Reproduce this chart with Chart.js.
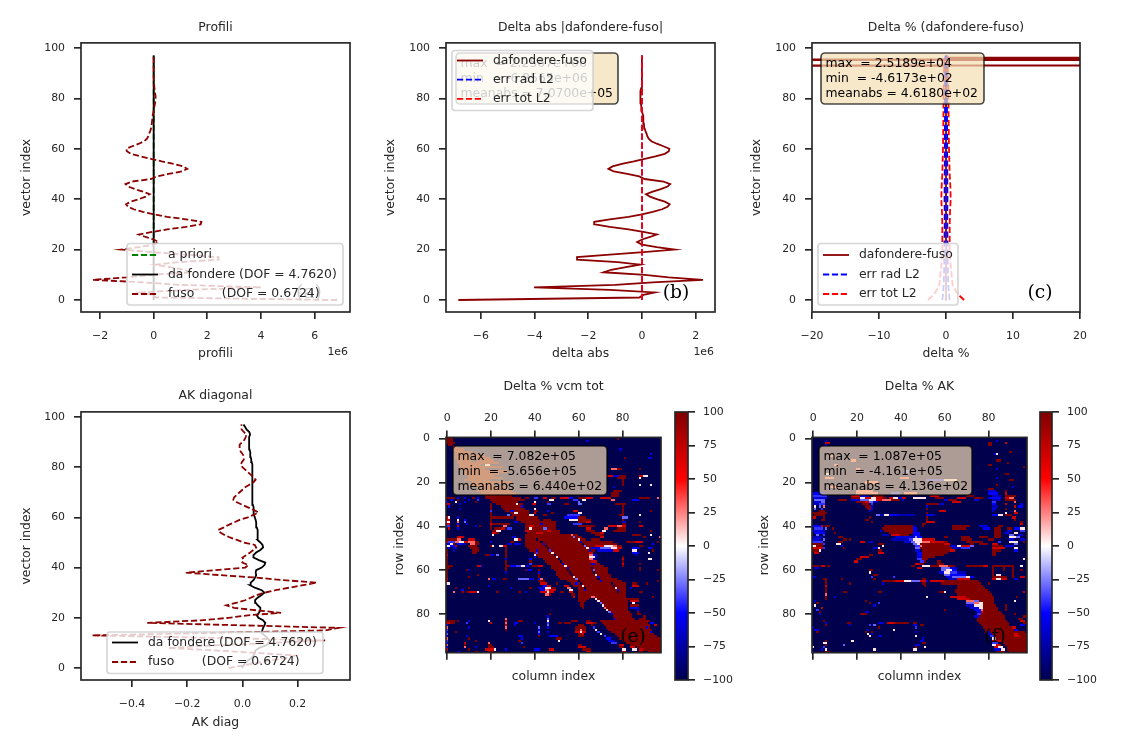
<!DOCTYPE html>
<html>
<head>
<meta charset="utf-8">
<title>Confronto fusione</title>
<script src="https://cdn.jsdelivr.net/npm/chart.js@4"></script>
<style>
  html, body { margin: 0; padding: 0; background: #fff; }
  #wrap { position: relative; width: 1125px; height: 750px; overflow: hidden; }
  canvas { position: absolute; left: 0; top: 0; }
</style>
</head>
<body>
<div id="wrap"></div>
<script>
// profile panels: values in units of 1e6, one per vector index 0..97
const deltaAbs = [-6.84,-0.1,0.05,0.48,-1.2,-4.02,-1.0,0.4,2.27,1.0,0.1,-1.43,-1.15,-0.6,-0.07,-0.9,-2.42,-2.42,-1.2,0.05,
  1.22,0.55,0,-0.18,0,0.3,0.55,0.05,-0.5,-1.2,-1.75,-1.78,-1.2,-0.5,0,0.4,0.75,0.95,1.03,0.85,
  0.55,0.3,0.15,0.4,0.7,0.95,1.05,0.8,0.1,-0.1,-0.55,-1.05,-1.25,-1.1,-0.75,-0.3,0.1,0.5,0.85,1.0,
  1.02,0.8,0.55,0.35,0.25,0.2,0.17,0.13,0.1,0.08,0.07,0.06,0.05,0.04,0.02,0,-0.02,-0.03,-0.05,-0.06,
  -0.07,-0.07,-0.05,-0.04,-0.03,-0.02,-0.01,-0.01,0,0,0,0,0,0,0,0,0,0];
const fuso = [6.84,0.1,-0.05,-0.48,1.2,4.02,1.0,-0.4,-2.27,-1.0,-0.1,1.43,1.15,0.6,0.07,0.9,2.42,2.42,1.2,-0.05,
  -1.22,-0.55,0,0.18,0,-0.3,-0.55,-0.05,0.5,1.2,1.75,1.78,1.2,0.5,0,-0.4,-0.75,-0.95,-1.03,-0.85,
  -0.55,-0.3,-0.15,-0.4,-0.7,-0.95,-1.05,-0.8,-0.1,0.1,0.55,1.05,1.25,1.1,0.75,0.3,-0.1,-0.5,-0.85,-1.0,
  -1.02,-0.8,-0.55,-0.35,-0.25,-0.2,-0.17,-0.13,-0.1,-0.08,-0.07,-0.06,-0.05,-0.04,-0.02,0,0.02,0.03,0.05,0.06,
  0.07,0.07,0.05,0.04,0.03,0.02,0.01,0.01,0,0,0,0,0,0,0,0,0,0];
const endRows = [0, 97];
const aPriori = [0, 0];
const daFondere = [0, 0];
const errAbsRad = [0, 0];
const errAbsTot = [0, 0];

// delta % profile, only the top rows leave the plotted window
const pctRows = [0,10,20,30,40,50,60,70,80,90,92.9,93.0,93.2,95.4,96.0,96.1,97];
const pctDelta = [0.1,0,0,0,0,0,0,0,0,0,0,-461.73,25189,-461.73,25189,0.2,0.1];
const errRows = [0,1,2,3,4,5,6,7,8,10,12,15,20,25,30,35,40,45,50,55,60,65,70,75,80,85,90,95,97];
const errRadPlus = [0.55,0.5,0.45,0.42,0.4,0.38,0.35,0.33,0.32,0.3,0.28,0.26,0.25,0.22,0.2,0.2,0.22,0.2,0.2,0.18,0.18,0.17,0.16,0.15,0.15,0.13,0.12,0.1,0.08];
const errRadMinus = [-0.55,-0.5,-0.45,-0.42,-0.4,-0.38,-0.35,-0.33,-0.32,-0.3,-0.28,-0.26,-0.25,-0.22,-0.2,-0.2,-0.22,-0.2,-0.2,-0.18,-0.18,-0.17,-0.16,-0.15,-0.15,-0.13,-0.12,-0.1,-0.08];
const errTotPlus = [2.7,2.3,1.9,1.6,1.4,1.15,1.0,0.95,0.9,0.85,0.75,0.65,0.55,0.55,0.55,0.6,0.7,0.65,0.55,0.5,0.45,0.42,0.4,0.38,0.36,0.33,0.3,0.25,0.2];
const errTotMinus = [-2.7,-2.3,-1.9,-1.6,-1.4,-1.15,-1.0,-0.95,-0.9,-0.85,-0.75,-0.65,-0.55,-0.55,-0.55,-0.6,-0.7,-0.65,-0.55,-0.5,-0.45,-0.42,-0.4,-0.38,-0.36,-0.33,-0.3,-0.25,-0.2];

// AK diagonal, one value per vector index 0..97
const akDaFondere = [-0.002,0.005,0.01,0.02,0.034,0.04,0.045,0.047,0.06,0.085,0.1,0.098,0.09,0.08,0.07,0.072,0.075,0.08,0.083,0.075,
  0.058,0.052,0.06,0.065,0.065,0.055,0.048,0.046,0.055,0.068,0.08,0.07,0.045,0.028,0.03,0.04,0.046,0.05,0.048,0.05,
  0.07,0.08,0.083,0.06,0.04,0.04,0.05,0.065,0.075,0.073,0.065,0.055,0.055,0.056,0.055,0.055,0.052,0.05,0.05,0.048,
  0.045,0.042,0.04,0.042,0.04,0.038,0.038,0.038,0.037,0.037,0.037,0.037,0.036,0.036,0.036,0.035,0.035,0.035,0.035,0.035,
  0.035,0.035,0.034,0.032,0.03,0.029,0.028,0.026,0.025,0.025,0.024,0.024,0.024,0.028,0.025,0.015,0.01,0.004];
const akFuso = [-0.05,0,0.05,0.1,0.16,0.19,0.06,-0.1,-0.27,-0.1,0.1,0.3,-0.1,-0.545,-0.1,0.3,0.35,0,-0.345,-0.15,
  -0.05,0.02,0.14,0.05,-0.03,-0.058,-0.02,0.01,0.03,0.05,0.08,0.12,0.17,0.22,0.27,0.15,0.05,-0.08,-0.205,-0.1,
  0.01,0.022,0,0.005,0,0.015,0.028,0.04,0.05,0.045,0.005,-0.02,-0.045,-0.065,-0.08,-0.088,-0.067,-0.05,-0.03,-0.01,
  0.02,0.04,0.058,0.04,0.02,0,-0.02,-0.033,-0.03,-0.02,-0.01,0,0.01,0.025,0.04,0.048,0.04,0.03,0.02,0.01,
  0,-0.006,-0.002,0.005,0.005,0.002,-0.005,-0.01,-0.01,-0.01,0,0.008,0.012,0.015,0.005,-0.003,-0.004,-0.003];
const vectorRows = deltaAbs.map((_, i) => i);

// tick labels per panel
const rowTicks = [0, 20, 40, 60, 80, 100];
const profTicksX = [-2, 0, 2, 4, 6];
const deltaAbsTicksX = [-6, -4, -2, 0, 2];
const deltaPctTicksX = [-20, -10, 0, 10, 20];
const akTicksX = [-0.4, -0.2, 0, 0.2];
const cellTicks = [0, 20, 40, 60, 80];
const barTicks = [-100, -75, -50, -25, 0, 25, 50, 75, 100];

// covariance difference cells as [row, first column, end column, percent]; the rest sits at -100
const vcmCells = [
  [0,0,3,100],[1,0,3,100],[2,0,4,100],[3,1,3,100],[4,3,5,70],[5,3,8,100],[6,4,12,100],[7,4,14,100],[8,4,10,100],[8,12,18,100],
  [9,4,20,100],[10,5,12,100],[10,14,22,100],[11,5,24,100],[12,6,16,100],[12,18,20,5],[13,6,26,100],[14,6,18,100],[15,8,28,100],[16,8,24,100],
  [17,10,22,100],[18,10,26,100],[19,8,20,100],[20,12,30,100],[21,10,22,100],[22,14,28,100],[23,16,28,100],[24,14,30,100],[25,16,32,100],
  [26,18,30,100],[27,18,34,100],[28,20,36,100],[29,21,33,100],[30,23,35,100],[31,25,35,100],[32,26,36,100],[33,27,38,100],[34,29,38,100],[35,30,40,100],
  [36,20,31,100],[36,32,42,100],[37,33,43,100],[37,44,48,100],[38,34,50,100],[39,36,50,100],[40,36,50,100],[41,36,50,100],[42,36,52,100],[43,37,52,100],
  [44,36,60,100],[45,36,62,100],[46,36,64,100],[47,36,76,100],[48,36,78,100],[49,36,68,100],[50,37,68,100],[51,38,68,100],[52,40,66,100],[53,41,66,100],
  [54,42,66,100],[55,44,66,100],[56,45,68,100],[57,46,70,100],[58,48,72,100],[59,48,74,100],[60,49,74,100],[61,50,74,100],[62,50,75,100],[63,51,75,100],
  [64,52,78,100],[65,55,80,100],[66,57,82,100],[67,58,82,100],[68,60,82,100],[69,60,82,100],[70,60,82,100],[71,60,82,100],[72,60,82,100],
  [73,60,65,100],[73,68,84,100],[74,60,64,100],[74,69,83,100],[75,61,63,100],[75,70,83,100],[76,61,63,100],[76,72,83,100],[77,62,63,100],[77,73,83,100],
  [78,74,83,100],[79,75,84,100],[80,75,84,100],[81,76,85,100],[82,76,86,100],[83,72,90,100],[84,71,92,100],[85,72,93,100],[86,73,93,100],[87,74,94,100],
  [88,75,94,100],[89,77,95,100],[90,78,96,100],[91,79,98,100],[92,80,98,100],[93,82,98,100],[94,84,98,100],[95,87,98,100],[96,90,98,100],[97,92,98,100],
  // thin streaks inside the band
  [48,44,45,-60],[49,45,46,-100],[50,46,47,-100],[51,47,48,-40],[52,48,49,5],[53,49,50,-100],[54,50,51,5],[55,51,52,-100],[56,52,53,-100],[57,53,54,-60],
  [58,54,55,5],[59,55,56,-60],[60,55,56,-100],[61,56,57,-100],[62,57,58,-100],[63,58,59,5],[64,59,60,-30],[65,60,61,-100],[66,61,62,-100],[67,62,63,5],[68,63,64,-100],[69,63,64,-60],
  [44,57,58,30],[45,58,59,-30],[46,60,61,5],[47,61,62,-60],[48,62,63,-100],[49,63,64,-30],[50,64,65,5],[51,65,66,-60],[52,66,67,5],
  [59,66,67,-100],[60,67,68,-30],[61,67,68,-100],[62,68,69,5],[63,69,70,-60],[64,69,70,-100],[65,70,71,-60],
  [72,66,68,30],[73,68,69,5],[74,69,70,5],[75,70,71,-30],[76,71,72,5],[77,72,73,30],[78,73,74,5],[79,74,75,-30],[80,75,76,-60],[81,75,76,-100],[82,76,77,-60],
  [66,75,76,-100],[67,76,77,-100],[68,77,78,5],[69,78,79,-60],[70,78,79,-100],
  [40,38,40,70],[41,38,39,5],[42,36,38,70],[43,41,44,70],[41,44,46,-30],[42,46,48,70],[39,43,44,-60],[46,41,42,-100],[47,43,44,-100],
  // right arm of the band
  [49,68,72,70],[49,72,76,5],[49,76,78,30],[49,78,80,100],[50,66,70,-60],[50,70,75,-30],[50,75,78,5],[50,78,80,70],[51,69,76,-60],[51,76,79,70],[52,72,78,-100],
  [52,65,67,70],[53,65,67,30],[54,65,68,5],[55,65,67,30],[56,66,69,70],[57,66,68,-60],[53,67,69,-60],[54,68,69,-60],[55,67,68,-60],
  // clusters right of the band
  [40,74,82,70],[41,72,74,30],[41,78,82,100],[42,71,73,5],[42,76,82,100],[43,70,72,70],[40,78,80,30],[39,80,82,100],[38,80,82,-60],[37,80,81,100],[36,80,83,-30],[35,79,81,100],[34,80,81,100],[33,80,81,100],[32,80,81,100],
  [30,77,82,100],[31,80,81,100],[28,75,77,30],[27,70,75,70],[27,88,93,100],[27,96,97,30],[28,85,88,-50],[26,75,79,100],[25,75,79,100],[24,76,80,100],
  [17,73,76,70],[17,76,79,-60],[17,79,82,100],[18,78,82,100],[19,80,81,100],[20,80,81,100],[21,80,81,100],[22,76,77,-60],[14,75,78,30],[14,78,80,100],[17,88,90,70],[17,90,92,5],[18,88,89,5],[21,93,94,5],[21,88,89,5],[14,88,89,100],
  [1,64,65,-60],[0,78,79,100],[5,79,80,-60],[7,93,94,-60],[9,81,82,100],[9,92,94,-60],[35,88,89,5],[33,93,94,100],[38,88,89,100],[40,88,90,70],[44,85,89,100],[42,93,94,100],[44,93,94,5],[45,90,91,100],[45,97,98,30],
  [47,82,86,100],[47,86,90,70],[50,85,88,-50],[51,85,87,5],[52,85,88,-50],[53,86,87,-70],[49,88,90,100],[50,92,94,-50],[52,92,93,5],[51,94,95,100],[54,80,81,100],[55,80,81,70],[56,80,81,100],[57,80,81,70],[58,80,81,100],[59,88,89,100],[60,88,89,100],[57,88,89,100],
  // rows 27-35, mixed specks on the left and along the top of the band
  [27,0,4,100],[27,5,6,-50],[27,8,9,-60],[27,12,13,100],[27,14,15,-50],[27,36,38,100],[27,40,42,-40],[27,44,46,70],[27,48,50,100],[27,52,56,70],[27,56,58,-50],[27,60,64,100],[27,64,67,70],
  [28,2,3,-50],[28,5,6,100],[28,10,11,-60],[28,14,15,-40],[28,47,49,5],[28,58,60,-40],[28,62,64,5],[29,0,1,-50],[29,4,5,5],[29,8,9,-60],[29,13,14,100],[29,40,41,5],[29,46,47,100],[29,60,61,-30],
  [30,0,2,70],[30,6,7,-60],[30,39,41,70],[30,46,48,-40],[30,54,56,100],[30,60,62,-30],[31,1,2,-50],[32,6,7,-60],[32,40,41,5],[33,40,42,100],[33,46,47,-50],[33,58,60,70],[34,40,41,70],[34,48,49,100],[34,60,62,5],[35,38,40,5],[35,44,46,100],[35,55,61,-40],
  [36,54,60,-50],[36,60,64,100],[37,56,60,5],[37,60,66,100],[38,60,64,100],[38,64,66,70],[39,58,62,-40],[40,60,68,100],[41,64,66,70],[42,64,68,100],[43,66,70,100],[44,68,72,100],[45,70,72,70],[46,66,70,100],
  // left cluster
  [36,0,1,70],[36,1,2,5],[36,5,6,-60],[37,0,2,70],[37,5,6,5],[37,8,9,-50],[38,0,2,5],[38,5,6,30],[38,8,9,-30],[39,0,2,70],[39,5,6,-50],[39,9,10,-60],[40,0,2,-40],[40,5,6,70],[40,13,14,-60],[40,15,16,100],[41,1,2,70],[41,5,6,-50],
  [45,5,8,70],[46,5,7,30],[46,0,5,100],[46,10,13,70],[47,0,1,70],[47,1,4,-40],[47,4,6,30],[47,6,8,5],[47,8,10,70],[47,10,13,30],[47,13,15,100],[48,0,2,-60],[48,2,3,5],[48,3,4,100],[48,5,7,-50],[48,7,9,-70],[48,11,13,30],[48,13,15,100],
  [49,0,2,5],[49,2,4,-50],[49,4,5,70],[49,10,14,100],[50,1,2,-60],[50,3,5,-60],[50,11,15,100],[51,3,4,-70],[51,12,15,100],[52,12,14,100],[47,20,21,-60],[41,28,30,-40],
  [43,21,23,70],[42,23,25,5],[41,25,27,70],[40,26,28,30],[43,23,24,100],[42,21,23,100],[41,22,25,100],[44,21,22,5],[39,21,29,100],
  [49,20,21,100],[49,21,22,5],[49,24,26,5],[49,26,28,70],[48,28,30,-60],[47,29,31,100],[46,31,33,5],[45,30,32,-60],[46,33,34,70],[48,31,34,-60],
  [30,20,21,100],[31,20,21,100],[32,20,21,100],[33,20,21,-40],[34,20,21,100],[35,20,21,100],[37,20,21,100],[38,20,21,100],[39,20,21,70],[40,20,21,100],[41,20,21,100],
  [30,32,33,5],[31,34,35,-50],[33,29,31,-60],[34,31,33,5],[38,31,33,-60],[37,32,34,100],[35,28,29,-30],
  [50,27,28,100],[51,27,28,100],[52,27,28,100],[53,27,28,100],[54,27,28,100],[55,27,28,-60],[56,27,28,100],[57,27,28,100],[58,27,28,100],[59,27,28,100],[60,27,28,100],[61,27,28,-60],
  [53,18,20,100],[53,20,22,-60],[53,23,24,-30],[58,14,16,70],[58,16,17,-60],[58,27,29,100],[58,29,32,-50],[58,32,34,-40],[58,34,36,5],[58,36,38,-60],[58,39,42,100],[58,42,44,70],
  [51,41,42,-60],[52,41,42,-40],[53,40,41,5],[54,40,41,-60],[55,38,39,-50],[56,38,39,100],[57,38,39,-40],
  [60,42,43,100],[61,42,43,-60],[62,42,43,100],[63,42,43,100],[64,42,43,-50],[65,42,43,100],
  // rows 45-66 left edge and long faint rows
  [51,0,1,100],[52,0,1,100],[53,0,1,70],[54,0,1,100],[55,0,1,100],[56,0,1,100],[57,0,1,100],[58,0,3,100],[59,0,2,100],[60,0,1,100],[61,0,1,100],[62,0,1,100],[63,0,1,100],[64,0,1,70],[65,0,1,100],[66,0,1,30],
  [60,9,10,100],[60,10,11,-60],[62,14,15,100],[63,10,11,100],[64,19,20,30],[64,21,23,-60],[64,26,28,100],[64,33,38,-30],[64,38,40,-60],[66,0,2,5],[64,43,44,30],[60,37,39,-50],[60,36,37,100],
  [70,3,4,30],[70,7,8,100],[70,9,11,100],[70,11,14,70],[70,14,15,5],[68,4,5,100],[69,7,8,-50],[68,10,11,100],[70,23,24,100],[67,19,20,-60],[70,33,34,100],[68,29,30,-60],[70,36,37,-60],[68,38,39,100],
  // cluster around column 46, row 68
  [65,43,45,100],[66,43,46,70],[67,44,46,-50],[67,46,48,70],[68,42,45,-60],[68,45,48,5],[68,48,50,100],[69,43,45,-60],[69,45,47,30],[69,47,50,70],[70,43,46,70],[70,46,47,5],[70,47,49,70],[71,45,47,30],[71,47,48,100],[66,50,51,100],[70,52,54,100],
  [67,54,56,70],[68,55,57,30],[69,56,58,5],[70,56,58,70],[71,57,59,100],[72,58,59,70],[66,59,60,-50],
  // lower left rows
  [83,0,4,100],[84,0,2,70],[84,2,4,100],[83,5,6,100],[83,10,11,-60],[84,9,10,-40],[83,19,20,5],[84,20,21,70],[83,27,28,100],[83,33,35,100],
  [82,27,28,30],[83,27,28,70],[84,27,28,30],[85,27,28,70],[86,27,28,30],[87,27,28,100],[84,31,33,-50],[85,31,32,-60],[84,40,41,-60],[86,42,43,-30],[87,42,43,-50],[88,42,43,-30],[89,42,43,-50],[90,42,43,100],
  [80,47,48,100],[81,46,47,-50],[82,46,47,-30],[83,46,47,5],[84,46,47,-40],[85,46,47,-30],[86,46,47,-50],[88,46,47,-60],[84,51,53,100],[84,54,57,100],[83,57,60,100],
  [85,0,1,-50],[86,0,1,30],[87,0,1,-40],[88,0,1,-50],[89,0,1,-30],[90,0,1,-60],[91,0,1,30],[92,0,1,-40],[93,0,1,-50],[94,0,1,30],[95,0,1,-50],[96,0,1,70],
  [86,10,11,-60],[88,4,5,100],[90,9,10,-60],[91,10,11,100],[92,13,14,100],[93,8,9,70],[94,8,9,100],[95,8,9,30],[96,10,11,100],[95,13,14,-60],[90,33,35,-60],[92,33,34,100],[91,34,35,-50],[93,34,35,-40],
  [90,47,51,-50],[91,50,53,100],[92,51,52,5],[96,40,43,-50],[96,47,49,70],[95,35,36,100],[96,18,22,70],[95,19,22,100],[94,19,21,100],[93,19,20,30],[96,22,23,5],[97,19,22,100],[96,27,28,-50],[97,5,7,-60],[97,13,15,100],
  // spot near column 61, row 88
  [85,60,63,100],[86,59,64,100],[87,59,61,100],[87,61,62,30],[87,62,64,100],[88,59,61,70],[88,61,62,5],[88,62,64,70],[89,60,62,100],[89,62,63,70],[90,60,63,100],
  [83,64,66,100],[84,64,67,70],[84,67,69,100],[83,70,72,100],[85,66,67,100],[86,67,68,-40],[87,68,69,5],[88,69,70,-40],[89,70,71,5],[90,72,73,-40],[91,73,75,-50],[92,74,77,-60],[93,75,78,-40],
  [94,60,62,100],[95,60,64,70],[96,62,66,100],[97,64,66,70],[94,79,81,70],[95,79,81,100],[96,80,82,5],[97,80,82,70],[95,84,86,70],[96,85,87,5],[96,88,90,70],[97,88,90,100],[85,92,93,100],[86,91,92,-60],[88,93,94,-50],[90,95,96,100],
  [80,84,85,100],[77,84,88,-60],[76,84,88,100],[75,85,86,5],[74,84,88,70],[73,84,88,100],[78,87,88,-60],[79,87,88,100],[80,87,89,100],[81,90,91,100],[82,88,91,100],[83,90,93,100],[84,93,95,-50],[85,95,96,70],[66,85,87,100],[67,85,88,70],[68,84,85,-60],[70,88,90,100],[66,91,92,100],[65,96,97,100],[72,94,95,100],[60,96,97,100],[55,92,94,5],[48,94,95,-50],[47,96,97,100]
];

// averaging kernel difference cells, same layout
const akCells = [
  [1,6,7,-60],[2,6,8,70],[3,6,7,-50],[1,84,85,-60],[2,88,89,70],[2,80,82,100],[3,80,82,100],[7,83,85,-50],[7,84,85,5],[6,90,91,100],[10,84,86,100],[11,89,90,100],[12,80,82,100],[13,96,97,100],[14,84,85,-60],[16,88,90,100],[18,84,85,-60],[19,90,92,100],[21,84,85,100],[22,91,92,-60],[23,80,83,100],
  [8,8,10,30],[10,18,20,30],[12,10,12,30],[14,20,22,30],[15,42,44,-30],[16,6,8,5],[18,6,10,30],[18,40,44,30],[19,52,60,-40],[19,60,62,5],[19,62,66,5],[20,24,30,30],[22,8,12,30],[24,20,28,30],[25,20,30,30],[25,36,40,-40],
  // left block
  [25,0,6,-50],[26,0,7,-40],[27,0,7,-60],[28,1,6,-30],[29,1,4,-60],[29,4,6,-30],[30,0,3,-70],[30,3,6,-40],[31,1,2,5],[31,3,4,-30],[31,5,6,30],[32,1,2,-30],[32,4,5,-40],[33,3,6,100],[34,0,3,100],[34,3,7,100],[35,1,6,100],[36,0,2,70],[36,5,6,100],[37,4,6,100],
  [40,0,4,-50],[40,4,5,70],[40,6,8,100],[41,1,5,-40],[41,6,7,-30],[42,0,6,-60],[43,1,6,-50],[44,2,3,-30],[44,5,6,-40],[45,0,5,-70],[46,0,4,-60],[46,5,6,-30],[47,0,5,-40],[48,0,5,100],[48,5,6,-40],[49,0,2,5],[49,2,5,100],[50,0,5,70],[50,5,6,-40],[51,0,3,100],[51,3,4,5],[52,1,3,70],
  [41,9,10,100],[43,10,11,100],[45,12,14,100],[46,14,16,30],[46,17,18,100],[48,11,13,5],[47,12,14,100],[49,13,14,-60],[50,14,15,100],
  [58,0,3,100],[58,4,6,70],[58,7,8,100],[59,1,3,-60],[63,0,2,-60],[64,5,7,100],[65,6,7,100],[66,6,7,100],[67,6,7,70],[68,6,7,100],[69,6,7,100],[70,6,7,100],[71,6,7,30],[72,6,7,100],[73,6,7,100],[75,2,3,100],[74,1,2,-60],[76,1,2,5],[77,4,5,70],[78,2,3,-40],[79,3,4,100],[80,3,4,-60],
  [64,13,14,100],[66,17,18,100],[70,14,16,100],[72,10,11,-60],[84,6,7,-60],[83,5,6,100],[85,6,7,100],[86,0,1,-60],[87,1,3,-60],[88,2,3,100],[92,6,7,100],[93,5,7,5],[94,6,7,100],[95,5,6,-40],[95,0,1,5],[96,4,5,-60],[97,0,1,-60],[97,6,8,100],[96,6,7,5],
  [84,16,18,100],[85,17,18,-60],[88,24,25,100],[87,25,26,-60],[89,25,26,5],[92,18,19,5],[94,14,15,-30],[96,28,29,5],[90,30,32,-60],[85,28,29,-30],[86,30,31,100],
  // streak around row 27
  [25,26,30,30],[26,18,22,70],[26,22,26,-60],[26,28,33,100],[27,18,22,100],[27,22,24,5],[27,24,27,70],[27,27,29,5],[27,29,32,70],[27,32,34,100],[27,35,37,70],[27,37,39,5],[27,39,41,-60],[27,41,43,70],
  [28,12,16,100],[28,18,22,-60],[28,22,26,-30],[28,26,29,5],[28,29,32,70],[28,32,36,30],[28,36,40,100],[28,41,42,-60],[29,20,24,100],[29,24,26,70],[29,26,28,-30],[29,28,30,-70],[30,23,26,100],[30,27,28,-40],[31,24,27,100],[31,27,28,-60],[32,25,27,100],[32,27,28,-60],[33,26,27,-50],
  [35,29,31,-30],[35,31,33,-70],[35,33,35,5],[35,35,39,-50],[35,39,47,-70],[36,26,27,100],[37,24,26,100],[38,27,28,100],
  [25,42,48,30],[27,46,52,5],[26,54,58,70],[27,56,60,100],[28,60,62,-60],[28,62,66,100],[27,66,70,70],[26,70,74,100],[27,74,78,100],[28,74,76,-60],
  // block and star in the middle
  [40,33,46,100],[41,32,46,100],[42,33,46,100],[42,31,32,-60],[43,35,46,100],[44,36,40,70],[44,40,44,100],[41,46,48,-50],[42,46,48,-60],[43,46,49,-50],[44,46,49,-50],[45,44,47,-60],[45,47,48,-20],[45,48,50,-50],
  [40,46,47,-60],[44,32,35,-70],[45,38,44,-60],[46,36,44,-70],[46,44,46,-40],[46,46,48,5],[46,48,50,5],[46,50,56,70],[47,42,45,-60],[47,45,47,-30],[47,47,50,5],[47,50,54,30],[47,54,60,70],[47,60,62,100],
  [48,46,48,-30],[48,48,49,5],[48,49,60,100],[48,60,63,70],[49,47,49,-40],[49,49,50,30],[49,50,63,100],[49,63,66,-60],[49,66,68,5],[49,68,72,70],[49,72,74,-30],[50,47,49,-30],[50,49,64,100],[50,64,68,-70],[50,68,72,-40],[51,47,49,-60],[51,50,63,100],[51,63,65,70],[52,48,50,-50],[52,50,62,100],[53,48,50,-50],[53,50,60,100],[54,48,50,-60],[54,50,56,100],
  [55,48,50,-40],[55,50,53,100],[56,49,51,-40],[56,51,52,100],[57,47,49,70],[57,49,51,100],[58,45,47,100],[58,50,65,100],[57,57,60,100],[56,57,59,100],[45,68,72,100],[46,68,73,100],[47,70,74,100],[48,72,74,100],[48,76,80,100],[47,74,78,100],
  [58,58,62,30],[59,59,63,-30],[59,63,66,-60],[60,59,61,-30],[60,61,64,5],[60,64,66,-50],[61,58,60,-60],[61,60,63,5],[61,63,66,-40],[61,66,70,-70],[62,60,63,-30],[62,63,70,-50],[63,61,64,-60],[63,64,70,-30],[63,70,72,5],[63,72,74,-50],[64,62,66,-70],[64,66,72,70],
  [58,70,78,100],[58,78,80,70],[62,28,30,100],[60,26,28,100],[61,26,27,5],[63,27,28,-40],[64,28,29,100],
  [65,32,38,100],[65,38,42,70],[65,42,45,5],[65,45,49,-30],[65,49,52,70],[65,52,53,-60],[64,50,52,100],[66,50,52,100],[67,51,52,100],[65,54,60,70],[65,60,76,100],[66,59,77,100],[67,66,78,100],[68,66,79,100],[69,65,80,100],[70,65,81,100],[71,66,82,100],[72,63,70,70],[72,70,83,100],[73,66,72,70],[73,72,83,100],
  [74,70,74,30],[74,74,76,-30],[74,76,83,100],[75,70,74,-30],[75,74,76,30],[75,76,78,5],[75,78,83,100],[76,70,74,-70],[76,74,78,5],[76,78,84,100],[77,72,76,-60],[77,76,78,5],[77,78,85,100],[78,74,77,-50],[78,77,78,30],[78,78,85,100],[79,75,77,-50],[79,77,78,70],[79,78,86,100],[80,75,77,-40],[80,77,87,100],[81,74,76,-60],[81,76,88,100],[82,75,88,100],[83,75,89,100],[84,76,90,100],[85,77,90,100],[86,78,91,100],[87,79,92,100],[88,79,93,100],[89,81,93,100],[90,82,94,100],[91,83,94,100],[92,84,95,100],[93,87,98,100],[94,88,98,100],[95,89,98,100],[96,89,98,100],[97,90,98,100],
  [86,91,93,70],[88,91,97,100],[89,92,94,70],[89,94,98,100],[90,92,95,70],[90,95,98,100],[91,93,98,100],[92,93,98,100],[87,92,94,-60],[88,80,81,-60],[89,80,82,-70],[90,81,83,-40],[91,82,84,5],[92,82,86,70],[93,82,85,-40],[94,82,84,5],[94,84,86,70],[95,83,85,70],[95,85,87,5],[96,83,86,-60],[96,86,88,5],[97,84,88,100],
  // grid of short lines on the right
  [24,80,84,-60],[25,80,85,-50],[26,82,86,-70],[27,80,86,-50],[28,82,86,-70],[29,82,84,-40],[30,82,84,-50],[31,82,85,-70],[32,82,84,-60],[33,82,83,-60],[35,82,85,-50],[35,85,87,5],
  [24,88,89,100],[25,88,89,70],[26,88,93,100],[27,88,90,70],[27,90,92,30],[28,88,93,100],[29,92,93,30],[30,88,89,70],[31,92,93,70],[32,88,89,100],[33,92,93,30],[34,88,89,5],[34,92,94,70],[35,88,91,100],[36,91,93,70],[37,92,93,100],[38,95,96,100],[39,95,96,70],[30,95,96,-60],[31,94,96,-50],
  [40,76,80,-60],[41,78,81,-50],[40,85,87,100],[41,83,86,100],[42,83,86,100],[43,83,86,100],[44,83,86,100],[45,83,86,100],[41,89,91,100],[42,89,91,-60],[43,88,90,-50],[44,90,92,-30],[45,90,93,5],[41,92,95,-50],[41,95,97,5],[42,95,97,-40],[43,92,94,5],[44,94,96,-60],[45,93,95,-30],[46,90,92,-60],[47,90,94,5],[48,92,94,-30],[49,90,92,-60],[50,92,94,5],[51,92,94,-50],[46,95,97,-60],[47,96,97,100],
  [48,82,85,70],[49,82,87,100],[50,82,88,70],[51,82,86,100],[52,82,84,100],[49,88,90,-60],[47,85,86,-40],[46,80,83,100],[45,76,80,100],[55,96,97,5],[53,82,84,100],
  [58,82,89,100],[59,82,83,100],[60,82,83,100],[61,82,83,100],[62,82,83,100],[63,82,89,100],[64,82,84,70],[64,84,86,5],[64,86,89,70],[58,87,92,100],[59,87,88,100],[60,87,88,100],[59,91,92,100],[60,91,92,100],[61,91,92,100],[62,91,92,100],[63,91,92,100],[58,95,96,5],[60,95,96,100],[63,95,97,70],[64,92,94,-60],
  [70,96,97,70],[72,93,94,100],[74,92,93,5],[76,88,89,100],[77,88,89,100],[78,88,89,100],[80,92,93,100],[82,94,96,100],[81,96,98,100],[83,95,97,70],[84,96,98,100],[85,95,97,-50],
  // scattered specks
  [72,52,53,5],[70,58,60,100],[70,60,61,5],[78,60,61,100],[84,34,38,70],[84,38,44,100],[84,30,33,-60],[84,46,48,100],[85,46,48,-60],[85,49,51,100],[86,47,48,-40],[88,47,48,-60],[87,37,38,5],[85,26,27,-40],[90,47,48,5],[91,50,51,-60],[92,49,51,-60],[93,50,52,100],[95,51,52,5],[94,47,49,-60],[95,47,48,100],[96,46,48,5],[88,27,28,100],[89,27,28,-60],[90,26,27,5],
  [74,24,25,100],[75,26,27,100],[76,28,29,-60],[79,24,26,-60],[80,22,25,100],[70,30,32,100],[75,30,31,-40],[66,32,33,-60],
  [33,58,61,70],[34,52,53,100],[35,52,56,-60],[36,52,53,100],[37,52,53,100],[38,52,56,70],[39,50,52,100],[40,50,51,100],[30,52,58,100],[30,58,60,-60],[29,64,68,70],[31,52,53,-60],[32,52,53,100],[40,64,72,100],[41,64,70,100],[45,60,62,100],[58,50,54,5],[59,48,50,70],
  [50,28,30,-60],[51,30,32,100],[52,30,33,70],[53,26,28,100],[54,22,26,70],[55,20,23,100],[56,19,21,70],[50,30,31,5],[46,14,16,100],[47,22,24,70],[47,26,28,-60],[48,30,33,100],[49,32,33,5],
  [62,84,86,5],[66,80,81,100],[63,37,38,-40]
];

const seismicStops = [[0, 0, 77], [0, 0, 255], [255, 255, 255], [255, 0, 0], [128, 0, 0]];
const textColor = '#262626';
const darkRed = '#8b0000';
const tickFont = { family: 'DejaVu Sans', size: 10.9 };
const labelFont = { family: 'DejaVu Sans', size: 12.4 };
const dashed = [6.2, 2.7];
const lineW = 1.8;

Chart.defaults.font.family = 'DejaVu Sans';
Chart.defaults.color = textColor;

function seismic(v) {
  const t = (Math.max(-100, Math.min(100, v)) + 100) / 50;
  const i = Math.min(3, Math.floor(t));
  const f = t - i;
  const a = seismicStops[i], b = seismicStops[i + 1];
  return 'rgb(' + [0, 1, 2].map(k => Math.round(a[k] + (b[k] - a[k]) * f)).join(',') + ')';
}

function pairs(xs, ys) {
  return xs.map((x, i) => ({ x: x, y: ys[i] }));
}

function line(label, xs, ys, color, dash) {
  return {
    label: label, data: pairs(xs, ys), showLine: true, pointRadius: 0,
    borderColor: color, backgroundColor: color, borderWidth: lineW, borderDash: dash || []
  };
}

// one linear axis with fixed ticks and a fixed box size
function axis(position, min, max, ticks, fit, title, fmt, extra) {
  const pad = position === 'bottom' ? 10.5 : position === 'top' ? 6 : position === 'left' ? 9 : 8;
  return Object.assign({
    type: 'linear', position: position, min: min, max: max,
    afterBuildTicks: s => { s.ticks = ticks.map(v => ({ value: v })); },
    afterFit: s => {
      if (s.isHorizontal()) s.height = fit; else s.width = fit;
    },
    border: { display: false },
    grid: { drawOnChartArea: false, color: textColor, tickColor: textColor, tickLength: 7, lineWidth: 1.67, drawTicks: true },
    ticks: {
      display: true, font: tickFont, color: textColor, padding: pad, autoSkip: false, maxRotation: 0,
      callback: v => (fmt ? fmt(v) : String(v)).replace('-', '\u2212')
    },
    title: { display: !!title, text: title, font: labelFont, color: textColor, padding: 0 }
  }, extra || {});
}

// heat cells, letter, text box, legend, frame and offset text of a panel
function decorations(p) {
  return {
    id: 'decor',
    beforeDatasetsDraw(chart) {
      if (!p.cells) return;
      const ctx = chart.ctx, xs = chart.scales.x, ys = chart.scales.y, a = chart.chartArea;
      ctx.save();
      ctx.fillStyle = seismic(-100);
      ctx.fillRect(a.left, a.top, a.width, a.height);
      p.cells.forEach(c => {
        const x0 = Math.round(xs.getPixelForValue(c[1] - 0.5)), x1 = Math.round(xs.getPixelForValue(c[2] - 0.5));
        const y0 = Math.round(ys.getPixelForValue(c[0] - 0.5)), y1 = Math.round(ys.getPixelForValue(c[0] + 0.5));
        ctx.fillStyle = seismic(c[3]);
        ctx.fillRect(x0, y0, x1 - x0, y1 - y0);
      });
      ctx.restore();
    },
    afterDatasetsDraw(chart) {
      const ctx = chart.ctx, a = chart.chartArea;
      ctx.save();
      ctx.strokeStyle = textColor;
      ctx.lineWidth = 1.67;
      ctx.strokeRect(a.left, a.top, a.width, a.height);
      ctx.textBaseline = 'middle';
      ctx.textAlign = 'center';
      if (p.letter) {
        ctx.fillStyle = '#000';
        ctx.font = '18.75px "DejaVu Serif"';
        ctx.fillText(p.letter[0], p.letter[1], p.letter[2]);
      }
      ctx.textAlign = 'left';
      if (p.stat) {
        const s = p.stat;
        ctx.beginPath();
        ctx.roundRect(s.x, s.y, s.w, s.h, 4);
        ctx.fillStyle = 'rgba(245,222,179,0.7)';
        ctx.fill();
        ctx.strokeStyle = 'rgba(0,0,0,0.7)';
        ctx.lineWidth = 1.67;
        ctx.stroke();
        ctx.fillStyle = '#000';
        ctx.font = '12.4px "DejaVu Sans"';
        s.lines.forEach((t, i) => ctx.fillText(t, s.x + 4.5, s.y + 10.5 + i * 15));
      }
      if (p.legend) {
        const l = p.legend;
        ctx.beginPath();
        ctx.roundRect(l.x, l.y, l.w, l.h, 3);
        ctx.fillStyle = 'rgba(255,255,255,0.8)';
        ctx.fill();
        ctx.strokeStyle = 'rgba(204,204,204,0.8)';
        ctx.lineWidth = 1.67;
        ctx.stroke();
        ctx.font = '12.4px "DejaVu Sans"';
        l.rows.forEach((r, i) => {
          const ry = l.y0 + i * l.step;
          ctx.beginPath();
          ctx.moveTo(l.x + 5, ry);
          ctx.lineTo(l.x + 31, ry);
          ctx.strokeStyle = r[1];
          ctx.lineWidth = lineW;
          ctx.setLineDash(r[2] ? dashed : []);
          ctx.stroke();
          ctx.setLineDash([]);
          ctx.fillStyle = textColor;
          ctx.fillText(r[0], l.x + l.tx, ry);
        });
      }
      if (p.offset) {
        ctx.textAlign = 'right';
        ctx.fillStyle = textColor;
        ctx.font = '10.9px "DejaVu Sans"';
        ctx.fillText('1e6', p.offset, 352);
      }
      ctx.restore();
    }
  };
}

// y axis box, top margin and title are pinned so the axes land on the grid of the figure
function panel(p) {
  const canvas = document.createElement('canvas');
  canvas.width = 1125;
  canvas.height = 750;
  document.getElementById('wrap').appendChild(canvas);
  const b = p.box;
  const topAxis = p.topAxisHeight || 0;
  const titleTop = p.titleY - 6.5;
  new Chart(canvas, {
    type: 'scatter',
    // the library paints the first dataset last, the lists here run bottom to top
    data: { datasets: (p.datasets || []).slice().reverse() },
    plugins: [decorations(p)],
    options: {
      responsive: false,
      animation: false,
      events: [],
      layout: { padding: { left: p.yTitleX - 7.5, top: titleTop, right: 1125 - b.right, bottom: 750 - b.bottom - p.bottomHeight } },
      plugins: {
        legend: { display: false },
        tooltip: { enabled: false },
        title: {
          display: true, text: p.title, font: Object.assign({ weight: 'normal' }, labelFont), color: textColor,
          fullSize: false, padding: { top: 0, bottom: b.top - titleTop - 15 - topAxis }
        }
      },
      scales: p.scales
    }
  });
}

const boxA = { left: 81, right: 350, top: 43, bottom: 312 };
const boxB = { left: 446, right: 715, top: 43, bottom: 312 };
const boxC = { left: 812, right: 1080, top: 43, bottom: 312 };
const boxD = { left: 81, right: 350, top: 412, bottom: 680 };
const boxE = { left: 446, right: 661, top: 437.5, bottom: 652.7 };
const boxF = { left: 812, right: 1027, top: 437.5, bottom: 652.7 };

function profileScales(b, xMin, xMax, xTicks, xTitle, yTitleX, bottomH, fmt) {
  return {
    x: axis('bottom', xMin, xMax, xTicks, bottomH, xTitle, fmt),
    y: axis('left', -4.76, 102, rowTicks, b.left - yTitleX + 7.5, 'vector index')
  };
}

panel({
  box: boxA, title: 'Profili', titleY: 26.5, yTitleX: 26.5, bottomHeight: 49.5,
  scales: profileScales(boxA, -2.71, 7.32, profTicksX, 'profili', 26.5, 49.5),
  datasets: [
    line('a priori', aPriori, endRows, '#008000', dashed),
    line('da fondere (DOF = 4.7620)', daFondere, endRows, '#000'),
    line('fuso       (DOF = 0.6724)', fuso, vectorRows, darkRed, dashed)
  ],
  letter: ['(a)', 309, 293], offset: 348,
  legend: {
    x: 127, y: 243.5, w: 216, h: 61.5, y0: 255, step: 19.5, tx: 41,
    rows: [['a priori', '#008000', true], ['da fondere (DOF = 4.7620)', '#000', false], ['fuso       (DOF = 0.6724)', darkRed, true]]
  }
});

panel({
  box: boxB, title: 'Delta abs |dafondere-fuso|', titleY: 26.5, yTitleX: 391, bottomHeight: 49.5,
  scales: profileScales(boxB, -7.3, 2.72, deltaAbsTicksX, 'delta abs', 391, 49.5),
  datasets: [
    line('dafondere-fuso', deltaAbs, vectorRows, darkRed),
    line('err rad L2', errAbsRad, endRows, '#0000ff', dashed),
    line('err tot L2', errAbsTot, endRows, '#ff0000', dashed)
  ],
  letter: ['(b)', 676, 293], offset: 714,
  stat: { x: 456, y: 53, w: 162, h: 51, lines: ['max  = 2.2567e+06', 'min  = -6.8565e+06', 'meanabs = 7.0700e+05'] },
  legend: {
    x: 452, y: 50.5, w: 141, h: 60, y0: 60.5, step: 19.2, tx: 41,
    rows: [['dafondere-fuso', darkRed, false], ['err rad L2', '#0000ff', true], ['err tot L2', '#ff0000', true]]
  }
});

panel({
  box: boxC, title: 'Delta % (dafondere-fuso)', titleY: 26.5, yTitleX: 757, bottomHeight: 49.5,
  scales: profileScales(boxC, -20, 20, deltaPctTicksX, 'delta %', 757, 49.5),
  datasets: [
    line('dafondere-fuso', pctDelta, pctRows, darkRed),
    line('err tot L2', errTotPlus, errRows, '#ff0000', dashed),
    line('err tot L2 -', errTotMinus, errRows, '#ff0000', dashed),
    line('err rad L2', errRadPlus, errRows, '#0000ff', dashed),
    line('err rad L2 -', errRadMinus, errRows, '#0000ff', dashed)
  ],
  letter: ['(c)', 1040, 293],
  stat: { x: 821, y: 53, w: 163, h: 51, lines: ['max  = 2.5189e+04', 'min  = -4.6173e+02', 'meanabs = 4.6180e+02'] },
  legend: {
    x: 818, y: 243.5, w: 140, h: 61.5, y0: 255, step: 19.5, tx: 41,
    rows: [['dafondere-fuso', darkRed, false], ['err rad L2', '#0000ff', true], ['err tot L2', '#ff0000', true]]
  }
});

panel({
  box: boxD, title: 'AK diagonal', titleY: 395, yTitleX: 26.5, bottomHeight: 50,
  scales: profileScales(boxD, -0.585, 0.39, akTicksX, 'AK diag', 26.5, 50, v => v.toFixed(1)),
  datasets: [
    line('da fondere (DOF = 4.7620)', akDaFondere, vectorRows, '#000'),
    line('fuso       (DOF = 0.6724)', akFuso, vectorRows, darkRed, dashed)
  ],
  legend: {
    x: 107, y: 632, w: 216, h: 41.5, y0: 642.5, step: 19.5, tx: 41,
    rows: [['da fondere (DOF = 4.7620)', '#000', false], ['fuso       (DOF = 0.6724)', darkRed, true]]
  }
});

function cellScales(b, yTitleX) {
  return {
    x: axis('bottom', -0.5, 97.5, cellTicks, 32, 'column index', null, {
      ticks: { display: false }
    }),
    xTop: axis('top', -0.5, 97.5, cellTicks, 30),
    y: axis('left', -0.5, 97.5, cellTicks, b.left - yTitleX + 7.5, 'row index', null, { reverse: true })
  };
}

panel({
  box: boxE, title: 'Delta % vcm tot', titleY: 386, yTitleX: 400, bottomHeight: 32, topAxisHeight: 30,
  cells: vcmCells,
  scales: cellScales(boxE, 400),
  letter: ['(e)', 633, 637],
  stat: { x: 453, y: 446, w: 154, h: 49, lines: ['max  = 7.082e+05', 'min  = -5.656e+05', 'meanabs = 6.440e+02'] }
});

panel({
  box: boxF, title: 'Delta % AK', titleY: 386, yTitleX: 765, bottomHeight: 32, topAxisHeight: 30,
  cells: akCells,
  scales: cellScales(boxF, 765),
  letter: ['(f)', 995, 637],
  stat: { x: 819, y: 446, w: 153, h: 49, lines: ['max  = 1.087e+05', 'min  = -4.161e+05', 'meanabs = 4.136e+02'] }
});

// colour bars are one-axis charts with the scale's values painted as a ramp
function colorbar(left, right, top, bottom) {
  const canvas = document.createElement('canvas');
  canvas.width = 1125;
  canvas.height = 750;
  document.getElementById('wrap').appendChild(canvas);
  new Chart(canvas, {
    type: 'scatter',
    data: { datasets: [] },
    plugins: [{
      id: 'ramp',
      beforeDatasetsDraw(chart) {
        const ctx = chart.ctx, a = chart.chartArea, y = chart.scales.y;
        for (let py = Math.floor(a.top); py < a.bottom; py++) {
          ctx.fillStyle = seismic(y.getValueForPixel(py + 0.5));
          ctx.fillRect(a.left, py, a.width, 1);
        }
        ctx.strokeStyle = textColor;
        ctx.lineWidth = 1.67;
        ctx.strokeRect(a.left, a.top, a.width, a.height);
      }
    }],
    options: {
      responsive: false,
      animation: false,
      events: [],
      layout: { padding: { left: left, top: top, right: 1125 - right - 50, bottom: 750 - bottom } },
      plugins: { legend: { display: false }, tooltip: { enabled: false } },
      scales: {
        x: { display: false, min: 0, max: 1 },
        y: axis('right', -100, 100, barTicks, 50)
      }
    }
  });
}

colorbar(675, 688, 412, 680);
colorbar(1040, 1052, 412, 680);
</script>
</body>
</html>
